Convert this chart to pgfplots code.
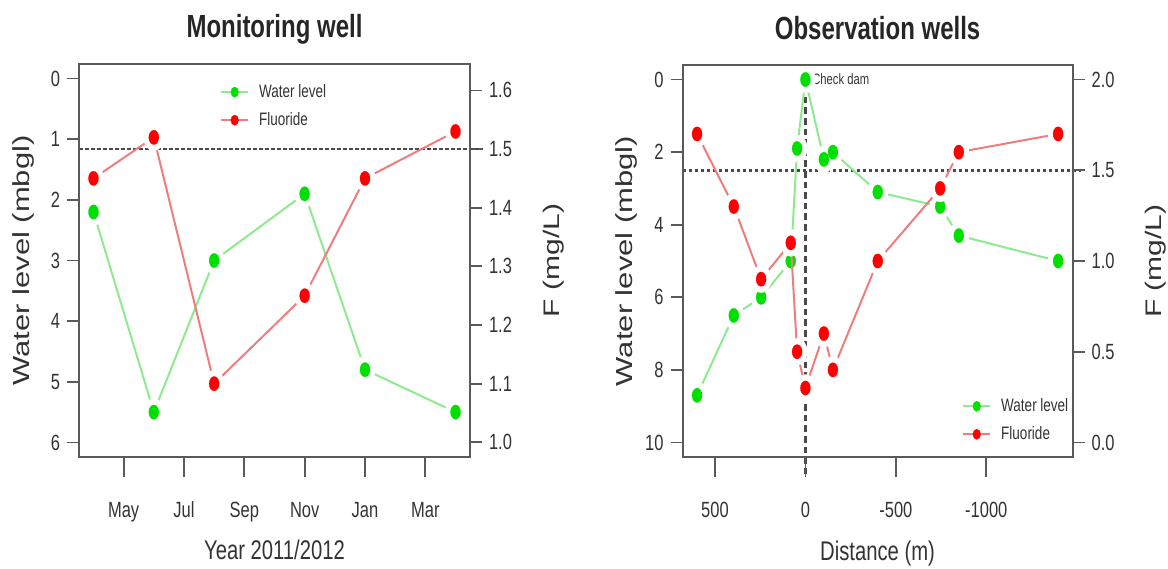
\documentclass[border=0pt]{standalone}
\usepackage{fontspec}
\setmainfont[FakeStretch=0.75]{Liberation Sans}
\newfontfamily\rotfont{Liberation Sans}
\usepackage{graphicx}
\usepackage{pgfplots}
\usepackage{pgfplotstable}
\pgfplotsset{compat=1.18}
\definecolor{boxgray}{HTML}{5A5A5A}
\definecolor{lblgray}{HTML}{333333}
\definecolor{wlmark}{HTML}{00E000}
\definecolor{wlline}{HTML}{8FEA8F}
\definecolor{fmark}{HTML}{FF0000}
\definecolor{fline}{HTML}{EE7E7E}
\definecolor{refgray}{HTML}{4A4A4A}

% Monitoring well (x in months, 5 = May 2011)
\pgfplotstableread{
x wl
4 2.2
6 5.5
8 3.0
11 1.9
13 4.8
16 5.5
}\mwwl
\pgfplotstableread{
x f
4 1.45
6 1.52
8 1.10
11 1.25
13 1.45
16 1.53
}\mwf
% Observation wells (distance m)
\pgfplotstableread{
d wl
599 8.7
396 6.5
245 6.0
81 5.0
46 1.9
0 0.0
-102 2.2
-152 2.0
-400 3.1
-745 3.5
-848 4.3
-1397 5.0
}\owwl
\pgfplotstableread{
d f
599 1.70
396 1.30
245 0.90
81 1.10
46 0.50
0 0.30
-102 0.60
-152 0.40
-400 1.00
-745 1.40
-848 1.60
-1397 1.70
}\owf

\pgfplotsset{
 panel/.style={scale only axis, anchor=south west,
   axis line style={boxgray, line width=1pt},
   tick style={boxgray, line width=0.9pt},
   tick align=outside, major tick length=6pt,
   tick label style={font=\fontsize{11}{13}\selectfont, text=lblgray},
   clip=false},
 wlln/.style={wlline, line width=1pt, no markers},
 fln/.style={fline, line width=1pt, no markers},
 halo/.style={only marks, mark=*, mark size=6.8pt, white, mark options={xscale=0.75, white, line width=0.1pt}},
 wlmk/.style={only marks, mark=*, mark size=3.6pt, wlmark, mark options={xscale=0.7, wlmark, line width=0.1pt}},
 fmk/.style={only marks, mark=*, mark size=3.6pt, fmark, mark options={xscale=0.7, fmark, line width=0.1pt}},
 refline/.style={refgray, line width=1.4pt, dash pattern=on 1.8pt off 1.2pt, no markers},
 vrefline/.style={refgray, line width=1.1pt, dash pattern=on 3.3pt off 2pt, no markers},
 leg/.style={legend cell align=left,
   legend style={draw=none, fill=none, inner sep=0pt, font=\fontsize{9}{10}\selectfont,
     text=lblgray, row sep=4pt, column sep=4pt, nodes={inner sep=1pt}},
   legend image code/.code={\draw[mark repeat=2,mark phase=2,##1] plot coordinates {(0pt,0pt) (6.75pt,0pt) (13.5pt,0pt)};}},
 legwl/.style={wlline, line width=1pt, mark=*, mark size=2.6pt, mark options={xscale=0.75, wlmark, line width=0.1pt}},
 legf/.style={fline, line width=1pt, mark=*, mark size=2.6pt, mark options={xscale=0.75, fmark, line width=0.1pt}},
}

\begin{document}
\begin{tikzpicture}
\useasboundingbox (0,0) rectangle (584pt,284pt);

% ---------------- Left panel: Monitoring well ----------------
\begin{axis}[panel, at={(39.5pt,55.5pt)}, width=195.5pt, height=196.5pt,
  xmin=3.52, xmax=16.48, ymin=-0.24, ymax=6.24, y dir=reverse,
  xtick=\empty, ytick={0,1,2,3,4,5,6}, yticklabels={0,1,2,3,4,5,6}, ytick pos=left,
  ylabel={\scalebox{1}[0.75]{\rotfont\fontsize{15.5}{18}\selectfont Water level (mbgl)}},
  every axis y label/.style={at={(axis description cs:-0.1432,0.5)}, anchor=center, rotate=90, text=lblgray}]
\addplot[wlln] table[x=x,y=wl] {\mwwl};
\addplot[halo] table[x=x,y=wl] {\mwwl};
\addplot[wlmk] table[x=x,y=wl] {\mwwl};
\end{axis}

\begin{axis}[panel, leg, at={(39.5pt,55.5pt)}, width=195.5pt, height=196.5pt,
  xmin=3.52, xmax=16.48, ymin=0.975, ymax=1.645,
  xtick=\empty, ytick={1,1.1,1.2,1.3,1.4,1.5,1.6}, yticklabels={1.0,1.1,1.2,1.3,1.4,1.5,1.6},
  ytick pos=right, yticklabel pos=right,
  legend style={at={(axis description cs:0.36,0.955)}, anchor=north west},
  ylabel={\scalebox{1}[0.75]{\rotfont\fontsize{15}{18}\selectfont F (mg/L)}},
  every axis y label/.style={at={(axis description cs:1.2148,0.5)}, anchor=center, rotate=90, text=lblgray}]
\addlegendimage{legwl}\addlegendentry{Water level}
\addlegendimage{legf}\addlegendentry{Fluoride}
\addplot[refline, forget plot] coordinates {(3.52,1.5) (16.9,1.5)};
\addplot[fln, forget plot] table[x=x,y=f] {\mwf};
\addplot[halo, forget plot] table[x=x,y=f] {\mwf};
\addplot[fmk, forget plot] table[x=x,y=f] {\mwf};
\end{axis}

\begin{axis}[panel, at={(39.5pt,55.5pt)}, width=195.5pt, height=196.5pt,
  xmin=3.52, xmax=16.48, ymin=0, ymax=1, major tick length=10pt,
  ytick=\empty, xtick={5,7,9,11,13,15}, xticklabels={May,Jul,Sep,Nov,Jan,Mar},
  xtick pos=left, xticklabel style={anchor=base, yshift=-20pt},
  title={\fontsize{16}{19}\selectfont\bfseries Monitoring well},
  every axis title/.style={at={(axis description cs:0.5,1.0662)}, anchor=base, text=black!85},
  xlabel={\fontsize{13.5}{16}\selectfont Year 2011/2012},
  every axis x label/.style={at={(axis description cs:0.5,-0.262)}, anchor=base, text=lblgray}]
\addplot[draw=none, forget plot] coordinates {(5,0.5)};
\end{axis}

% ---------------- Right panel: Observation wells ----------------
\begin{axis}[panel, at={(341.3pt,55.5pt)}, width=195pt, height=196pt,
  xmin=-1477, xmax=679, x dir=reverse, ymin=-0.4, ymax=10.4, y dir=reverse,
  xtick=\empty, ytick={0,2,4,6,8,10}, yticklabels={0,2,4,6,8,10}, ytick pos=left,
  ylabel={\scalebox{1}[0.75]{\rotfont\fontsize{15.5}{18}\selectfont Water level (mbgl)}},
  every axis y label/.style={at={(axis description cs:-0.1451,0.5)}, anchor=center, rotate=90, text=lblgray}]
\addplot[vrefline] coordinates {(0,-0.4) (0,10.95)};
\addplot[refline] coordinates {(679,2.5) (-1521,2.5)};
\addplot[wlln] table[x=d,y=wl] {\owwl};
\addplot[halo] table[x=d,y=wl] {\owwl};
\addplot[wlmk] table[x=d,y=wl] {\owwl};
\node[anchor=west, inner sep=1pt, font=\fontsize{7.5}{9}\selectfont, text=lblgray] at (axis cs:-25,0) {Check dam};
\end{axis}

\begin{axis}[panel, leg, at={(341.3pt,55.5pt)}, width=195pt, height=196pt,
  xmin=-1477, xmax=679, x dir=reverse, ymin=-0.08, ymax=2.08,
  xtick=\empty, ytick={0,0.5,1,1.5,2}, yticklabels={0.0,0.5,1.0,1.5,2.0},
  ytick pos=right, yticklabel pos=right,
  legend style={at={(axis description cs:0.716,0.156)}, anchor=north west},
  ylabel={\scalebox{1}[0.75]{\rotfont\fontsize{15}{18}\selectfont F (mg/L)}},
  every axis y label/.style={at={(axis description cs:1.2133,0.5)}, anchor=center, rotate=90, text=lblgray}]
\addlegendimage{legwl}\addlegendentry{Water level}
\addlegendimage{legf}\addlegendentry{Fluoride}
\addplot[fln, forget plot] table[x=d,y=f] {\owf};
\addplot[halo, forget plot] table[x=d,y=f] {\owf};
\addplot[fmk, forget plot] table[x=d,y=f] {\owf};
\end{axis}

\begin{axis}[panel, at={(341.3pt,55.5pt)}, width=195pt, height=196pt,
  xmin=-1477, xmax=679, x dir=reverse, ymin=0, ymax=1, major tick length=10pt,
  ytick=\empty, xtick={500,0,-500,-1000}, xticklabels={500,0,-500,-1000},
  xtick pos=left, xticklabel style={anchor=base, yshift=-20pt},
  title={\fontsize{16}{19}\selectfont\bfseries Observation wells},
  every axis title/.style={at={(axis description cs:0.5,1.0663)}, anchor=base, text=black!85},
  xlabel={\fontsize{13.5}{16}\selectfont Distance (m)},
  every axis x label/.style={at={(axis description cs:0.5,-0.263)}, anchor=base, text=lblgray}]
\addplot[draw=none, forget plot] coordinates {(0,0.5)};
\end{axis}
\end{tikzpicture}
\end{document}
